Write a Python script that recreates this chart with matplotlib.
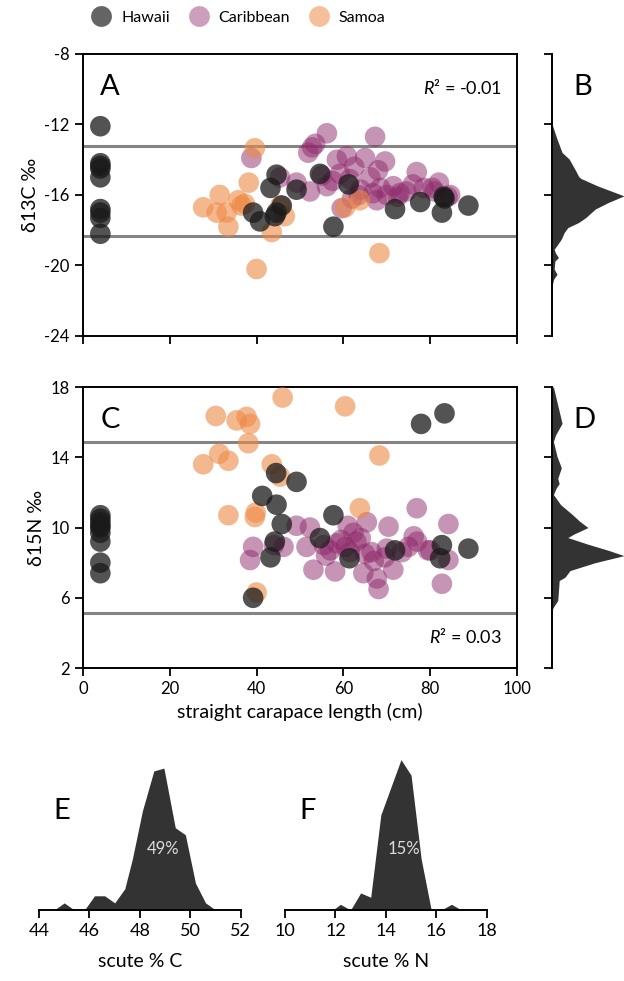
import numpy as np
import matplotlib
matplotlib.use('Agg')
import matplotlib.pyplot as plt
from matplotlib.lines import Line2D

plt.rcParams['font.family'] = ['Lato', 'DejaVu Sans']
plt.rcParams['mathtext.fontset'] = 'custom'
plt.rcParams['mathtext.it'] = 'Lato:italic'
plt.rcParams['mathtext.rm'] = 'Lato'
plt.rcParams['axes.unicode_minus'] = False

# ---- scatter data (straight carapace length, isotope value) ----
haw_scl_a = [4, 4, 4, 4, 4, 4, 4, 4, 4, 44.6, 43.2, 49.2, 54.6, 61.2, 71.9, 77.7, 83.1, 82.7, 88.8, 57.7, 39.2, 40.8, 44.6, 44.2, 45.8, 83.3]
haw_d13c = [-12.1, -14.2, -14.35, -14.5, -15.0, -16.8, -17.0, -17.3, -18.2, -14.85, -15.6, -15.7, -14.8, -15.4, -16.8, -16.4, -16.1, -17.0, -16.6, -17.8, -17.0, -17.5, -17.0, -17.2, -16.6, -16.2]
car_scl_a = [38.8, 53.5, 56.2, 51.9, 52.8, 67.3, 60.8, 58.5, 65.0, 69.6, 76.9, 49.2, 52.3, 56.2, 59.2, 62.5, 66.2, 68.5, 71.5, 74.5, 82.0, 80.5, 84.6, 59.6, 67.7, 45.4, 63.5, 66.8, 57.5, 61.5, 64.0, 70.0, 73.0, 76.0, 78.5, 81.0, 84.0, 55.0, 62.0, 68.0, 72.5]
car_d13c = [-13.9, -13.1, -12.5, -13.6, -13.3, -12.7, -13.8, -14.0, -13.9, -14.1, -14.7, -15.3, -15.8, -15.5, -14.8, -14.4, -15.0, -15.6, -15.5, -15.8, -15.3, -15.6, -16.0, -16.75, -16.3, -15.0, -16.0, -15.9, -15.2, -15.1, -15.7, -16.0, -15.9, -15.4, -15.6, -15.8, -16.1, -14.9, -16.2, -14.6, -16.1]
sam_scl_a = [39.6, 27.7, 31.5, 30.8, 33.5, 35.8, 38.2, 37.3, 33.1, 36.5, 40.0, 43.5, 46.5, 45.5, 60.4, 63.8, 68.3]
sam_d13c = [-13.35, -16.7, -16.0, -17.0, -17.8, -16.3, -15.3, -16.5, -17.0, -16.6, -20.2, -18.1, -17.2, -16.6, -16.7, -16.3, -19.3]

haw_scl_c = [4, 4, 4, 4, 4, 4, 4, 4, 4, 77.9, 83.3, 44.5, 49.2, 41.3, 44.6, 45.8, 57.7, 54.6, 44.2, 43.2, 61.4, 71.9, 82.7, 82.3, 88.8, 39.2]
haw_d15n = [10.7, 10.5, 10.3, 10.1, 10.0, 9.7, 9.2, 8.0, 7.4, 15.9, 16.5, 13.1, 12.6, 11.8, 11.3, 10.2, 10.7, 9.4, 9.2, 8.3, 8.25, 8.7, 9.0, 8.25, 8.8, 6.0]
car_scl_c = [76.9, 84.2, 70.4, 65.4, 49.2, 52.3, 39.2, 38.5, 46.2, 51.5, 53.1, 57.0, 58.1, 62.3, 61.0, 64.6, 67.7, 68.1, 71.5, 76.2, 77.0, 82.7, 84.2, 66.5, 69.5, 79.5, 55.5, 59.5, 60.5, 63.0, 65.0, 56.0, 58.5, 61.5, 64.0, 67.0, 70.0, 73.5, 75.0, 80.0, 44.0]
car_d15n = [11.1, 10.2, 10.05, 10.3, 10.1, 10.0, 8.9, 8.15, 8.9, 8.9, 7.6, 8.7, 7.5, 9.7, 10.1, 7.4, 7.1, 6.5, 7.6, 9.5, 9.2, 6.8, 8.15, 8.6, 8.3, 8.7, 9.0, 9.3, 8.9, 9.2, 8.5, 8.4, 9.1, 8.6, 9.4, 8.1, 8.8, 8.6, 8.9, 8.7, 9.0]
sam_scl_c = [46.0, 60.4, 30.6, 35.4, 37.7, 38.5, 38.1, 27.7, 31.4, 33.5, 43.5, 45.4, 68.3, 33.5, 39.8, 39.6, 63.8, 40.0]
sam_d15n = [17.4, 16.9, 16.35, 16.1, 16.3, 15.9, 14.8, 13.6, 14.2, 13.8, 13.6, 12.9, 14.1, 10.7, 10.85, 10.6, 11.1, 6.3]

lines_d13c = [-13.2, -18.3]
lines_d15n = [14.87, 5.12]

# ---- marginal density profiles ----
b_y = [-11.98, -12.83, -13.59, -13.97, -14.63, -14.95, -15.06, -15.48, -16.05, -16.43, -16.8, -17.28, -17.56, -17.85, -18.13, -18.5, -18.8, -19.08, -19.3, -19.55, -19.75, -20.2, -20.5, -20.8, -21.2]
b_d = [0, 0.07, 0.14, 0.24, 0.33, 0.37, 0.40, 0.63, 1.0, 0.78, 0.6, 0.47, 0.37, 0.22, 0.17, 0.13, 0.08, 0.03, 0.05, 0.09, 0.04, 0.03, 0.07, 0.02, 0]
d_y = [18.0, 16.96, 15.93, 15.27, 14.9, 14.05, 13.4, 12.8, 12.5, 12.26, 11.88, 11.3, 10.75, 10.37, 10.0, 9.62, 9.43, 9.05, 8.68, 8.4, 8.0, 7.55, 7.17, 6.98, 6.4, 5.85, 5.47, 5.3]
d_d = [0.02, 0.08, 0.14, 0.05, 0.02, 0.07, 0.13, 0.08, 0.1, 0.06, 0.02, 0.12, 0.28, 0.38, 0.5, 0.3, 0.22, 0.5, 0.8, 1.0, 0.6, 0.25, 0.18, 0.1, 0.09, 0.08, 0.02, 0]

e_x = [44.6, 45.0, 45.4, 45.8, 46.2, 46.6, 47.0, 47.4, 47.7, 48.1, 48.55, 48.95, 49.4, 49.8, 50.2, 50.6, 51.0]
e_d = [0, 0.05, 0, 0, 0.1, 0.1, 0.05, 0.15, 0.36, 0.7, 0.98, 1.0, 0.58, 0.53, 0.19, 0.05, 0]
f_x = [11.9, 12.2, 12.6, 13.0, 13.4, 13.8, 14.6, 15.0, 15.4, 15.8, 16.2, 16.6, 17.0]
f_d = [0, 0.04, 0, 0.12, 0.09, 0.67, 1.06, 0.95, 0.36, 0, 0, 0.04, 0]

groups = ['Hawaii', 'Caribbean', 'Samoa']
cols = {'Hawaii': '#1a1a1a', 'Caribbean': '#8f2a6c', 'Samoa': '#ee8a45'}
alph = {'Hawaii': 0.75, 'Caribbean': 0.5, 'Samoa': 0.6}
dark = '#333333'

fig = plt.figure(figsize=(6.24, 9.81), dpi=100)
axA = fig.add_axes([0.133, 0.6575, 0.6955, 0.2875])
axB = fig.add_axes([0.8846, 0.6575, 0.1154, 0.2875])
axC = fig.add_axes([0.133, 0.319, 0.6955, 0.2865])
axD = fig.add_axes([0.8846, 0.319, 0.1154, 0.2865])
axE = fig.add_axes([0.0625, 0.0724, 0.3235, 0.163])
axF = fig.add_axes([0.4567, 0.0724, 0.3233, 0.163])

def scatter_panel(ax, data, hl, ylim, yticks):
    for g, (xs, ys) in zip(['Caribbean', 'Samoa', 'Hawaii'], data):
        ax.scatter(xs, ys, s=220, color=cols[g], alpha=alph[g], edgecolors='none', zorder=3)
    for h in hl:
        ax.axhline(h, color='#777777', lw=2.2, alpha=0.9, zorder=2)
    ax.set_xlim(0, 100); ax.set_ylim(*ylim)
    ax.set_xticks(range(0, 101, 20)); ax.set_yticks(yticks)
    ax.tick_params(direction='out', length=6, width=1.3, labelsize=12)
    for sp in ax.spines.values():
        sp.set_linewidth(1.4)

scatter_panel(axA, [(car_scl_a, car_d13c), (sam_scl_a, sam_d13c), (haw_scl_a, haw_d13c)],
              lines_d13c, (-24, -8), range(-24, -7, 4))
axA.tick_params(labelbottom=False)
axA.set_ylabel('δ13C ‰', fontsize=14)
axA.text(0.04, 0.93, 'A', transform=axA.transAxes, fontsize=21, va='top')
axA.text(0.965, 0.915, '$R$² = -0.01', transform=axA.transAxes, fontsize=13, ha='right', va='top')

scatter_panel(axC, [(car_scl_c, car_d15n), (sam_scl_c, sam_d15n), (haw_scl_c, haw_d15n)],
              lines_d15n, (2, 18), range(2, 19, 4))
axC.set_ylabel('δ15N ‰', fontsize=14)
axC.set_xlabel('straight carapace length (cm)', fontsize=14)
axC.text(0.04, 0.93, 'C', transform=axC.transAxes, fontsize=21, va='top')
axC.text(0.965, 0.08, '$R$² = 0.03', transform=axC.transAxes, fontsize=13, ha='right', va='bottom')

def margin_panel(ax, ys, ds, ylim, yticks, lab):
    ax.fill_betweenx(ys, 0, ds, color=dark, lw=0)
    ax.set_ylim(*ylim); ax.set_xlim(0, 1.0)
    ax.set_yticks(yticks); ax.set_xticks([])
    ax.tick_params(direction='out', length=6, width=1.3, labelleft=False)
    for s in ['top', 'right', 'bottom']:
        ax.spines[s].set_visible(False)
    ax.spines['left'].set_linewidth(1.4)
    ax.text(0.3, 0.93, lab, transform=ax.transAxes, fontsize=21, va='top')

margin_panel(axB, b_y, b_d, (-24, -8), range(-24, -7, 4), 'B')
margin_panel(axD, d_y, d_d, (2, 18), range(2, 19, 4), 'D')

def bottom_panel(ax, xs, ds, xlim, xticks, lab, pct, pctx, xl):
    ax.fill_between(xs, 0, ds, color=dark, lw=0)
    ax.set_xlim(*xlim); ax.set_ylim(0, 1.127)
    ax.set_xticks(xticks); ax.set_yticks([])
    for s in ['top', 'right', 'left']:
        ax.spines[s].set_visible(False)
    ax.spines['bottom'].set_linewidth(1.4)
    ax.tick_params(direction='out', length=6, width=1.3, labelsize=13)
    ax.set_xlabel(xl, fontsize=14, labelpad=10)
    ax.text(0.07, 0.62, lab, transform=ax.transAxes, fontsize=21, va='center')
    ax.text(pctx, 0.43, pct, fontsize=12, color='#dddddd', ha='center', va='center')

bottom_panel(axE, e_x, e_d, (44, 52), range(44, 53, 2), 'E', '49%', 48.9, 'scute % C')
bottom_panel(axF, f_x, f_d, (10, 18), range(10, 19, 2), 'F', '15%', 14.7, 'scute % N')

handles = [Line2D([], [], marker='o', ls='none', markersize=15, markeredgewidth=0,
                  color=cols[g], alpha=alph[g] * 0.9) for g in groups]
fig.legend(handles, groups, loc='center', bbox_to_anchor=(0.381, 0.982), ncol=3,
           frameon=False, fontsize=11.5, handletextpad=0.55, columnspacing=1.1,
           handlelength=1.4)

fig.savefig('out.png', dpi=100)
